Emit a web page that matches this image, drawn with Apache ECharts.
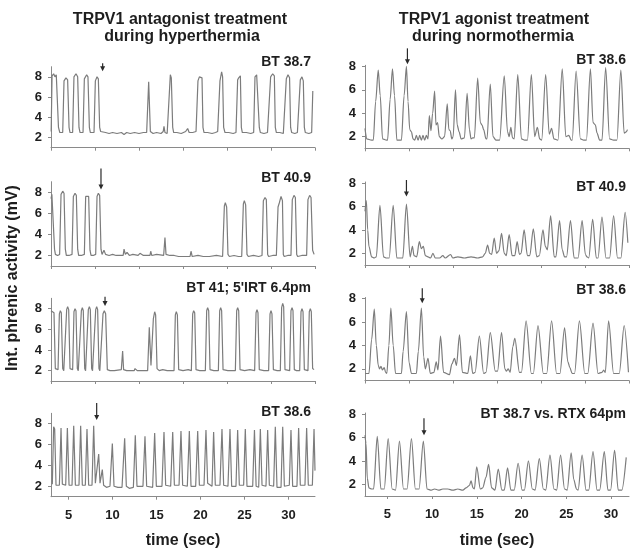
<!DOCTYPE html>
<html><head><meta charset="utf-8">
<script src="https://cdn.jsdelivr.net/npm/echarts@6/dist/echarts.min.js"></script>
<style>html,body{margin:0;padding:0;background:#fff}#c{width:638px;height:559px}</style>
</head><body><div id="c"></div>
<script>
// ---------- text ----------
const leftTitle = ['TRPV1 antagonist treatment', 'during hyperthermia'];
const rightTitle = ['TRPV1 agonist treatment', 'during normothermia'];
const leftPanelLabels = ['BT 38.7', 'BT 40.9', "BT 41; 5'IRT 6.4pm", 'BT 38.6'];
const rightPanelLabels = ['BT 38.6', 'BT 40.9', 'BT 38.6', 'BT 38.7 vs. RTX 64pm'];
const yAxisTitle = 'Int. phrenic activity (mV)';
const xAxisTitle = 'time (sec)';

// ---------- ticks ----------
const yTickValues = [2, 4, 6, 8];
const xTickLabelsBottom = [5, 10, 15, 20, 25, 30];
const leftUpperTicks = [3, 8, 13, 18, 23, 28, 33];
const rightUpperTicks = [2.5, 7.42, 12.33, 17.25, 22.17, 27.08, 32];

// ---------- traces [time (s), mV] ----------
const leftHyper1 = [[3.02,2.6],[3.12,8.1],[3.3,8.3],[3.45,8.0],[3.6,8.2],[3.85,3.0],[4.0,2.5],
[4.33,2.5],[4.48,7.6],[4.7,7.9],[4.89,7.7],[5.05,3.0],[5.16,2.5],
[5.46,2.5],[5.61,8.0],[5.84,8.3],[6.03,8.0],[6.18,3.0],[6.3,2.5],
[6.64,2.5],[6.79,7.8],[7.05,8.2],[7.2,8.0],[7.36,3.0],[7.47,2.5],
[7.89,2.5],[8.04,7.6],[8.23,8.0],[8.38,7.8],[8.53,3.0],[8.64,2.6],
[9.2,2.5],[9.6,2.4],[10.0,2.5],[10.5,2.4],[11.0,2.5],[11.3,2.3],[11.6,2.5],[12.0,2.4],[12.5,2.5],[13.0,2.4],[13.5,2.5],
[13.87,2.5],[14.1,7.5],[14.29,2.6],
[14.6,2.4],[15.0,2.5],[15.5,2.4],[15.75,2.6],[15.84,3.1],[15.95,2.5],[16.2,2.4],
[16.41,2.5],[16.56,8.2],[16.67,7.9],[16.83,3.0],[16.94,2.5],
[17.3,2.5],[17.8,2.4],[18.3,2.6],[18.53,2.9],[18.7,2.5],[19.1,2.5],
[19.48,2.6],[19.7,7.6],[19.86,8.0],[20.16,7.9],[20.27,3.0],[20.39,2.5],
[20.8,2.5],[21.3,2.4],[21.7,2.5],
[21.94,2.6],[22.2,7.6],[22.39,8.5],[22.5,8.0],[22.62,3.0],[22.77,2.5],
[23.2,2.5],[23.7,2.4],
[24.02,2.5],[24.21,7.7],[24.33,7.9],[24.52,8.1],[24.63,3.0],[24.74,2.5],
[25.2,2.5],[25.7,2.4],
[26.03,2.5],[26.18,8.0],[26.37,8.2],[26.55,8.1],[26.67,3.0],[26.79,2.5],
[27.2,2.4],[27.6,2.5],
[27.81,2.5],[27.96,8.0],[28.19,8.3],[28.38,8.1],[28.49,3.0],[28.61,2.5],
[29.0,2.5],[29.4,2.4],
[29.59,2.5],[29.74,7.8],[29.93,8.2],[30.11,7.9],[30.23,3.0],[30.35,2.5],
[30.7,2.4],[31.0,2.5],
[31.18,2.6],[31.33,7.7],[31.52,8.0],[31.67,7.6],[31.79,3.0],[31.9,2.5],
[32.3,2.4],[32.62,2.5],[32.75,6.6]];

const leftHyper2 = [[3.0,7.4],[3.1,7.8],[3.25,7.7],[3.4,2.6],[3.5,2.1],[3.75,2.0],
[3.98,2.1],[4.14,7.8],[4.33,8.1],[4.48,7.9],[4.63,2.6],[4.74,2.0],[5.05,2.0],
[5.39,2.1],[5.54,7.6],[5.73,7.9],[5.88,7.7],[6.03,2.6],[6.14,2.0],[6.45,2.0],
[6.79,2.1],[6.94,7.6],[7.09,7.7],[7.28,7.6],[7.43,2.5],[7.55,2.0],[7.8,2.0],
[8.08,2.1],[8.23,7.6],[8.38,7.9],[8.53,7.7],[8.68,2.6],[8.8,2.1],
[9.02,2.5],[9.2,2.1],[9.6,2.0],[10.0,2.1],[10.4,2.0],[11.2,2.0],[11.3,2.6],[11.45,2.1],[11.64,2.3],[11.9,2.0],[12.3,2.1],[12.9,2.0],[13.11,2.2],[13.5,2.0],[14.25,2.0],[14.33,2.4],[14.45,2.0],[15.0,2.1],[15.8,2.0],[15.95,3.7],[16.07,2.1],[16.5,2.0],[17.0,2.0],[17.5,1.9],[18.8,1.9],[18.91,2.4],[19.05,1.9],[19.7,2.0],[20.3,1.9],[21.0,1.9],[21.8,2.0],
[22.5,1.9],[22.7,6.7],[22.81,7.0],[22.96,6.6],[23.11,2.1],[23.27,1.9],[23.8,2.0],[24.3,1.9],
[24.67,1.9],[24.86,6.9],[24.97,7.2],[25.12,6.8],[25.27,2.1],[25.42,1.9],[26.0,2.0],[26.6,1.9],
[26.98,2.0],[27.13,7.2],[27.32,7.5],[27.47,7.3],[27.62,2.1],[27.73,1.9],[28.2,2.0],
[28.61,2.0],[28.8,6.6],[28.95,7.0],[29.14,7.6],[29.3,7.2],[29.4,2.1],[29.5,1.9],[29.9,2.0],
[30.27,2.0],[30.42,7.3],[30.61,7.7],[30.77,7.5],[30.92,2.1],[31.03,1.9],[31.5,2.0],
[32.05,2.0],[32.2,7.3],[32.39,7.7],[32.55,7.5],[32.73,2.5],[32.9,2.1]];

const leftHyper3 = [[3.0,7.8],[3.15,7.9],[3.34,7.6],[3.49,2.2],[3.6,2.1],
[3.8,2.1],[3.95,7.5],[4.06,7.8],[4.17,7.6],[4.33,2.2],[4.45,2.0],
[4.63,2.1],[4.78,7.9],[4.89,8.2],[5.01,7.9],[5.16,2.2],[5.25,2.1],
[5.46,2.1],[5.61,7.7],[5.73,8.0],[5.84,7.8],[5.99,2.2],[6.1,2.0],
[6.3,2.1],[6.45,7.8],[6.56,8.1],[6.67,7.8],[6.83,2.2],[6.93,2.0],
[7.09,2.1],[7.24,7.9],[7.36,8.2],[7.47,7.9],[7.62,2.2],[7.72,2.0],
[7.92,2.1],[8.08,7.9],[8.19,8.2],[8.3,7.9],[8.45,2.2],[8.55,2.0],
[8.76,2.1],[8.91,7.5],[9.06,7.8],[9.21,7.5],[9.4,2.1],
[9.7,2.0],[10.2,2.0],[10.99,2.1],[11.14,3.9],[11.25,2.1],[11.6,2.0],[12.45,2.0],[12.55,2.2],[12.8,2.0],[13.4,2.0],
[13.98,2.0],[14.17,6.2],[14.36,2.5],[14.44,2.4],[14.63,7.0],[14.78,7.7],[14.89,7.4],[15.05,2.2],[15.3,2.0],[15.7,2.1],[16.2,2.0],
[16.98,2.0],[17.13,7.4],[17.24,7.7],[17.36,7.4],[17.51,2.1],[18.0,2.0],[18.6,2.1],
[18.95,2.0],[19.1,7.5],[19.21,7.8],[19.33,7.6],[19.48,2.1],[19.9,2.0],
[20.54,2.0],[20.69,7.8],[20.8,8.1],[20.92,7.8],[21.07,2.1],[21.5,2.0],
[22.02,2.0],[22.17,7.8],[22.28,8.1],[22.39,7.8],[22.55,2.1],[23.1,2.0],[23.7,2.0],
[23.95,2.0],[24.1,7.8],[24.21,8.1],[24.33,7.8],[24.48,2.1],[25.0,2.0],[25.6,2.1],
[26.14,2.0],[26.3,7.6],[26.41,7.9],[26.52,7.6],[26.67,2.1],[27.2,2.0],
[27.73,2.0],[27.89,7.5],[28.0,7.8],[28.11,7.5],[28.27,2.1],[28.7,2.0],
[29.06,2.0],[29.21,8.1],[29.33,8.5],[29.44,8.2],[29.59,2.1],[29.8,2.0],
[30.12,2.0],[30.27,7.8],[30.39,8.1],[30.5,7.8],[30.65,2.1],[30.9,2.0],
[31.26,2.0],[31.41,7.7],[31.52,8.0],[31.64,7.7],[31.79,2.1],[32.0,2.0],
[32.2,2.0],[32.35,7.7],[32.47,8.0],[32.58,7.7],[32.73,2.2],[32.89,2.1]];

const leftHyper4 = [[3.15,2.2],[3.3,7.7],[3.42,7.5],[3.57,2.1],
[3.95,2.1],[4.14,7.6],[4.29,2.2],
[4.67,2.1],[4.86,7.6],[5.05,2.1],
[5.39,2.1],[5.58,7.8],[5.77,2.1],
[6.18,2.1],[6.37,7.8],[6.56,2.1],
[6.9,2.1],[7.09,7.5],[7.28,2.1],
[7.66,2.1],[7.85,7.8],[8.04,2.3],
[8.19,2.3],[8.42,5.1],[8.57,2.3],
[8.68,2.2],[8.83,3.6],[8.98,2.1],[9.3,1.9],[9.7,2.0],
[9.78,2.0],[9.97,6.1],[10.16,2.0],[10.6,1.9],[11.07,1.9],
[11.18,1.9],[11.37,6.6],[11.56,2.0],[11.9,1.8],
[12.36,1.9],[12.58,6.9],[12.77,2.0],
[13.45,2.0],[13.68,6.8],[13.87,2.0],
[14.55,1.9],[14.78,7.1],[14.97,2.0],
[15.61,2.0],[15.84,7.2],[16.03,2.1],
[16.6,2.0],[16.83,7.2],[17.02,2.1],
[17.55,2.1],[17.77,7.3],[17.96,2.1],
[18.49,2.0],[18.72,7.3],[18.91,2.0],
[19.44,2.0],[19.67,7.3],[19.86,2.1],
[20.39,2.1],[20.61,7.4],[20.8,2.3],
[21.3,2.0],[21.48,7.2],[21.67,2.1],
[22.2,2.1],[22.43,7.5],[22.62,2.1],
[23.11,2.0],[23.34,7.5],[23.53,2.0],
[24.02,2.0],[24.21,7.4],[24.4,2.1],
[24.89,2.1],[25.08,7.5],[25.27,2.0],
[25.92,2.0],[26.12,7.4],[26.31,2.0],
[26.6,1.9],[26.79,7.5],[26.98,2.1],
[27.43,2.0],[27.62,7.4],[27.81,2.1],
[28.3,2.0],[28.49,7.7],[28.68,1.9],
[29.14,1.9],[29.33,7.7],[29.52,2.0],
[30.08,2.1],[30.27,7.4],[30.46,2.0],
[30.95,2.0],[31.14,7.6],[31.33,2.1],
[31.86,2.1],[32.05,7.6],[32.24,2.1],
[32.7,2.1],[32.89,7.5],[33.0,3.5]];

const rightNormo1 = [[2.5,2.7],[2.69,1.8],[3.24,1.7],
[3.43,1.7],[3.69,5.0],[3.98,7.7],[4.2,5.5],[4.46,1.8],[4.91,1.7],
[5.02,1.7],[5.31,5.2],[5.57,7.8],[5.8,5.5],[6.06,1.7],
[6.57,1.7],[6.87,5.5],[7.13,8.0],[7.31,5.0],[7.5,2.6],[7.69,2.4],[7.87,1.8],
[8.06,1.7],[8.24,2.1],[8.43,1.7],[8.61,2.1],[8.8,1.7],[8.98,2.1],[9.17,1.7],[9.35,2.1],[9.54,1.8],
[9.69,3.8],[9.87,2.5],[10.06,4.0],[10.28,5.9],[10.43,3.0],[10.61,3.2],[10.8,2.0],[11.09,1.8],
[11.39,2.0],[11.69,4.8],[11.87,2.6],[12.02,2.5],[12.2,1.8],
[12.35,2.0],[12.61,6.0],[12.8,3.0],[13.02,2.4],[13.24,1.8],
[13.61,1.9],[13.91,5.7],[14.17,2.6],[14.35,1.8],[14.54,1.9],
[14.72,1.9],[15.09,7.0],[15.39,3.2],[15.57,3.0],[15.76,2.6],[16.02,1.8],
[16.13,1.8],[16.5,6.5],[16.8,2.0],[17.13,1.7],
[17.54,1.7],[18.06,7.2],[18.43,2.4],[18.61,2.0],[18.8,2.8],[18.98,1.9],
[19.17,1.8],[19.57,7.3],[19.98,1.8],[20.35,1.7],
[20.65,1.7],[21.09,7.3],[21.46,2.0],[21.76,2.8],[22.02,1.8],
[22.24,1.7],[22.69,7.3],[23.09,2.2],[23.35,2.7],[23.61,1.8],
[24.06,1.7],[24.54,7.8],[24.94,2.0],[25.28,2.1],[25.54,1.7],
[25.65,1.7],[26.09,7.6],[26.57,1.8],[26.94,1.7],
[27.24,1.7],[27.69,7.8],[27.98,3.2],[28.24,3.0],[28.43,2.3],[28.72,1.7],
[28.98,1.7],[29.39,7.9],[29.83,1.8],[30.28,1.7],
[30.65,1.7],[31.09,7.7],[31.46,2.3],[31.69,2.4],[31.83,2.6]];

const rightNormo2 = [[2.5,5.6],[2.65,6.5],[2.8,4.0],[2.94,2.6],[3.24,1.7],[3.54,1.6],
[3.76,1.7],[4.17,6.1],[4.57,1.7],[4.91,1.6],
[5.2,1.6],[5.65,6.1],[6.06,1.6],[6.57,1.6],
[6.72,1.6],[7.13,6.2],[7.54,1.7],
[7.8,2.6],[7.98,1.8],[8.28,1.7],[8.57,3.0],[8.8,2.4],[9.02,2.6],[9.24,1.8],[9.54,1.7],[9.83,1.6],[10.09,2.0],[10.35,1.6],[10.83,1.6],[11.2,1.8],[11.46,1.6],[12.06,1.9],[12.31,1.6],[12.87,1.7],[13.61,1.6],[14.35,1.7],[15.09,1.6],[15.65,1.7],
[15.94,2.0],[16.2,2.7],[16.43,2.0],[16.65,1.9],[16.94,3.3],[17.2,2.0],[17.46,2.2],[17.76,3.7],[18.06,2.0],[18.28,1.8],[18.61,3.6],[18.94,1.8],[19.24,1.8],[19.5,3.0],[19.76,1.9],[19.94,2.0],[20.28,4.0],[20.65,1.8],[20.91,1.8],[21.31,4.1],[21.69,1.7],[21.98,1.8],[22.39,4.0],[22.65,2.6],[22.87,2.3],[23.24,5.2],[23.65,1.7],[23.83,1.7],[24.24,4.8],[24.54,2.3],[24.8,1.7],[25.02,1.7],[25.46,4.8],[25.87,1.6],[26.31,1.6],[26.76,4.8],[27.13,1.9],[27.31,1.7],[27.5,1.6],[27.94,4.9],[28.35,1.6],[28.54,1.6],[28.98,5.1],[29.43,1.6],[29.83,1.6],[30.28,5.2],[30.72,1.6],[31.09,1.6],[31.57,5.5],[31.87,2.9]];

const rightNormo3 = [[2.5,1.6],[2.94,1.6],[3.24,4.5],[3.54,7.1],[3.76,4.0],[3.98,2.3],[4.13,2.0],[4.28,2.2],[4.46,1.9],[4.65,2.1],[4.8,1.7],[4.94,1.6],
[5.17,4.0],[5.39,7.2],[5.65,4.0],[5.91,1.6],[6.57,1.6],
[6.76,3.5],[7.13,6.9],[7.43,2.5],[7.69,1.6],[8.24,1.6],
[8.46,3.5],[8.8,7.2],[9.06,3.0],[9.24,2.0],[9.54,2.9],[9.8,1.6],[10.2,1.7],[10.46,2.6],[10.65,1.9],[10.94,4.8],[11.28,1.7],[11.94,1.5],[12.2,2.4],[12.5,2.9],[12.72,2.3],[13.06,4.9],[13.39,1.7],[13.98,1.6],[14.28,3.1],[14.54,1.6],[14.8,1.7],[15.28,4.8],[15.76,1.6],[16.02,1.7],[16.5,5.1],[17.06,1.8],[17.31,1.8],[17.76,5.1],[18.13,2.0],[18.31,1.8],[18.5,2.0],[18.72,1.7],[19.02,3.9],[19.24,4.6],[19.76,1.7],[19.98,1.7],[20.5,6.1],[21.09,1.6],[21.31,1.6],[21.83,5.7],[22.43,1.6],[22.8,1.6],[23.35,6.1],[23.91,1.6],[24.28,1.6],[24.8,5.5],[25.17,2.6],[25.39,2.1],[25.65,1.6],[25.91,1.6],[26.46,6.1],[27.06,1.6],[27.39,1.6],[27.98,5.9],[28.54,1.6],[28.98,1.7],[29.17,1.9],[29.35,1.7],[29.72,6.1],[30.28,1.6],[30.91,1.6],[31.46,5.7],[31.94,1.7]];

const rightNormo4 = [[2.5,6.2],[2.61,5.5],[2.76,2.5],[2.94,1.7],[3.24,1.6],[3.46,1.6],[3.87,6.1],[4.28,1.6],[4.65,1.6],[5.09,5.9],[5.54,1.6],[5.91,1.5],[6.35,5.7],[6.8,1.6],[7.2,1.6],[7.69,5.9],[8.13,1.6],[8.54,1.6],[9.02,5.7],[9.43,1.6],[9.91,1.5],[10.28,1.6],[10.72,1.5],[11.2,1.6],[11.76,1.6],[12.31,1.5],[12.87,1.6],[13.43,1.5],[13.8,1.7],[14.17,1.9],[14.35,2.3],[14.57,1.7],[14.72,1.6],[14.98,3.5],[15.39,1.6],[15.65,1.7],[16.02,2.6],[16.31,3.7],[16.65,1.7],[17.02,1.5],[17.39,3.3],[17.8,1.5],[18.06,1.5],[18.43,3.4],[18.8,1.5],[19.17,1.5],[19.61,3.8],[20.06,1.5],[20.31,1.5],[20.76,4.0],[21.2,1.6],[21.5,1.5],[21.98,4.2],[22.43,1.6],[22.69,1.5],[23.17,4.5],[23.61,1.6],[23.91,1.5],[24.35,4.5],[24.8,1.6],[25.09,1.5],[25.54,4.7],[25.83,2.4],[26.13,1.6],[26.31,1.5],[26.76,4.5],[27.2,1.5],[27.5,1.5],[27.98,4.8],[28.43,1.5],[28.72,1.5],[29.24,4.8],[29.65,1.5],[29.94,1.5],[30.39,4.9],[30.8,1.5],[31.2,1.5],[31.69,4.3]];

// injection arrows [time, top mV, tip mV]
const leftArrows = [[8.87, 9.35, 8.55], [8.68, 10.25, 8.25], [9.14, 9.15, 8.25], [8.19, 10.0, 8.35]];
const rightArrows = [[7.24, 9.55, 8.2], [7.13, 8.27, 6.85], [8.9, 8.9, 7.6], [9.09, 7.65, 6.2]];

// ---------- layout ----------
const FONT = "'Liberation Sans', Arial, Helvetica, sans-serif";
const TEXT = '#1e1e1e';
const AXIS = '#8a8a8a';
const TRACE = '#7c7c7c';
const leftTraces = [leftHyper1, leftHyper2, leftHyper3, leftHyper4];
const rightTraces = [rightNormo1, rightNormo2, rightNormo3, rightNormo4];
const leftGrid = { left: 51, width: 264, tops: [66.7, 181.7, 298.3, 413.3], heights: [81, 84.3, 82.7, 83.4], ymin: 1, ymax: 9, xmin: 3, xmax: 33, smooth: false };
const rightGrid = { left: 365, width: 264, tops: [65.3, 182, 297.5, 413], heights: [83, 83, 83, 83], ymin: 1, ymax: 8.1, xmin: 2.5, xmax: 32, smooth: 0.3 };

const grids = [], xAxes = [], yAxes = [], series = [];

function renderArrow(params, api) {
  const top = api.coord([api.value(0), api.value(1)]);
  const tip = api.coord([api.value(0), api.value(2)]);
  const h = 5, w = 2.5;
  return { type: 'group', children: [
    { type: 'line', shape: { x1: top[0], y1: top[1], x2: tip[0], y2: tip[1] - h + 1 }, style: { stroke: '#2a2a2a', lineWidth: 1.2 } },
    { type: 'polygon', shape: { points: [[tip[0] - w, tip[1] - h], [tip[0] + w, tip[1] - h], [tip[0], tip[1]]] }, style: { fill: '#2a2a2a' } }
  ]};
}

function addColumn(cfg, traces, arrows, upperTicks) {
  traces.forEach((trace, i) => {
    const idx = grids.length;
    const bottom = i === 3;
    grids.push({ left: cfg.left, width: cfg.width, top: cfg.tops[i], height: cfg.heights[i] });
    xAxes.push({
      gridIndex: idx, type: 'value', min: cfg.xmin, max: cfg.xmax,
      axisLine: { show: true, lineStyle: { color: AXIS, width: 1 } },
      axisTick: { show: true, length: 3, lineStyle: { color: AXIS }, customValues: bottom ? xTickLabelsBottom : upperTicks },
      axisLabel: { show: bottom, customValues: xTickLabelsBottom, margin: 12, fontSize: 13, fontWeight: 'bold', color: TEXT, fontFamily: FONT },
      splitLine: { show: false }
    });
    yAxes.push({
      gridIndex: idx, type: 'value', min: cfg.ymin, max: cfg.ymax,
      axisLine: { show: true, lineStyle: { color: AXIS, width: 1 } },
      axisTick: { show: true, length: 3, lineStyle: { color: AXIS }, customValues: yTickValues },
      axisLabel: { customValues: yTickValues, margin: 9, fontSize: 13, fontWeight: 'bold', color: TEXT, fontFamily: FONT },
      splitLine: { show: false }
    });
    series.push({
      type: 'line', xAxisIndex: idx, yAxisIndex: idx, data: trace,
      showSymbol: false, symbol: 'none', animation: false,
      smooth: cfg.smooth, smoothMonotone: 'x',
      lineStyle: { color: TRACE, width: 1.2 }
    });
    series.push({
      type: 'custom', xAxisIndex: idx, yAxisIndex: idx, data: [arrows[i]],
      encode: { x: 0, y: [1, 2] }, clip: false, animation: false, silent: true,
      renderItem: renderArrow
    });
  });
}
addColumn(leftGrid, leftTraces, leftArrows, leftUpperTicks);
addColumn(rightGrid, rightTraces, rightArrows, rightUpperTicks);

const graphics = [];
function txt(x, y, text, size, align, extra) {
  graphics.push(Object.assign({ type: 'text', x: x, y: y, silent: true,
    style: { text: text, fill: TEXT, font: 'bold ' + size + 'px ' + FONT, textAlign: align, textVerticalAlign: 'middle' } }, extra || {}));
}
txt(180, 19.5, leftTitle[0], 16, 'center');
txt(182, 36.5, leftTitle[1], 16, 'center');
txt(494, 19.5, rightTitle[0], 16, 'center');
txt(493, 36.5, rightTitle[1], 16, 'center');
const leftLabelY = [61.7, 177.7, 288.3, 411.7];
const rightLabelY = [60, 186.7, 290, 414];
leftPanelLabels.forEach((t, i) => txt(311, leftLabelY[i], t, 14, 'right'));
rightPanelLabels.forEach((t, i) => txt(626, rightLabelY[i], t, 14, 'right'));
txt(183, 541, xAxisTitle, 16, 'center');
txt(497, 540.5, xAxisTitle, 16, 'center');
txt(13, 278, yAxisTitle, 16, 'center', { rotation: Math.PI / 2 });

const chart = echarts.init(document.getElementById('c'), null, { renderer: 'canvas' });
chart.setOption({
  backgroundColor: '#ffffff',
  animation: false,
  grid: grids, xAxis: xAxes, yAxis: yAxes, series: series,
  graphic: graphics
});
</script>
</body></html>
